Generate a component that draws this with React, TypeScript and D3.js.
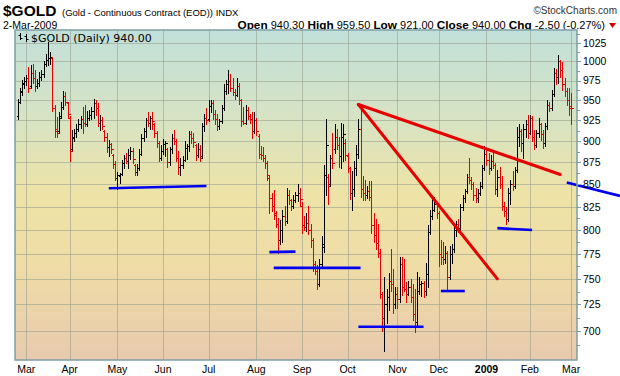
import React from "react";
import * as d3 from "d3";

// ---------- data ----------
const holidays = ["2008-03-21", "2008-05-26", "2008-07-04", "2008-09-01", "2008-11-27", "2008-12-25", "2009-01-01", "2009-01-19", "2009-02-16"];
const firstDate = "2008-02-26";
const lastDate = "2009-03-02";

const opens = [
  930, 948, 960, 970,
  974, 978, 968, 985, 978, 968, 972, 980, 984, 996, 1002, 1004, 1005, 940, 914, 912, 930, 942, 955, 946,
  928, 890, 904, 910, 914, 920, 926, 922, 920, 928, 932, 937, 946, 940, 922, 925, 912, 905, 893, 897, 884, 873,
  857, 859, 862, 874, 880, 877, 884, 888, 872, 864, 868, 885, 904, 912, 925, 922, 928, 920, 910, 898, 880,
  888, 896, 890, 875, 890, 904, 900, 880, 870, 872, 878, 892, 894, 908, 903, 895, 883, 890, 882, 918, 928,
  926, 943, 947, 933, 926, 918, 924, 940, 962, 970, 975, 965, 960, 957, 968, 950, 924, 922, 938, 930, 926, 912,
  925, 906, 885, 883, 880, 874, 857, 835, 826, 816, 806, 790, 800, 815, 810, 838, 832, 826, 832, 838, 840,
  826, 805, 803, 808, 800, 790, 765, 758, 745, 765, 782, 860, 858, 850, 880, 890, 905, 895, 882, 905, 898,
  882, 868, 840, 845, 868, 885, 915, 845, 840, 838, 842, 836, 805, 795, 786, 776, 735, 712, 725, 732, 748, 745, 725,
  735, 730, 765, 742, 740, 735, 742, 732, 716, 708, 738, 745, 746, 738, 755, 798, 815, 822, 828,
  818, 775, 772, 770, 776, 752, 775, 780, 800, 806, 802, 825, 835, 842, 858, 855, 850, 838, 835, 840, 848, 868,
  885, 878, 868, 876, 872, 845, 858, 850, 826, 820, 812, 840, 850, 848, 866, 905, 912, 898, 915, 920,
  910, 928, 905, 895, 910, 920, 908, 898, 918, 944, 940, 958, 985, 980, 1000, 988, 970, 962, 950,
  940.3,
];
const highs = [
  951, 966, 976, 979,
  982, 993, 995, 997, 989, 977, 986, 988, 1000, 1010, 1026, 1013, 1006, 944, 929, 935, 948, 961, 960, 948,
  930, 913, 914, 920, 926, 930, 942, 944, 936, 938, 941, 952, 950, 946, 932, 929, 913, 909, 901, 898, 885, 876,
  864, 863, 878, 883, 886, 890, 893, 892, 873, 873, 890, 908, 916, 928, 935, 930, 935, 922, 912, 900, 895,
  902, 900, 892, 893, 908, 913, 902, 888, 880, 882, 900, 896, 912, 912, 910, 897, 898, 895, 922, 933, 940,
  950, 950, 950, 938, 933, 926, 944, 971, 976, 989, 984, 978, 964, 978, 972, 952, 942, 944, 942, 933, 935, 935,
  928, 908, 894, 893, 884, 876, 860, 840, 844, 820, 813, 811, 822, 826, 846, 844, 834, 838, 841, 850, 846,
  830, 815, 818, 826, 806, 792, 768, 764, 770, 794, 872, 927, 862, 884, 910, 920, 915, 905, 922, 920, 902,
  886, 870, 865, 876, 895, 926, 944, 859, 855, 848, 854, 854, 818, 812, 806, 780, 737, 752, 740, 756, 780, 760, 742,
  742, 772, 772, 770, 747, 748, 750, 745, 740, 757, 752, 748, 748, 766, 805, 822, 836, 836, 830,
  820, 790, 787, 783, 778, 783, 785, 805, 810, 812, 828, 838, 845, 862, 880, 858, 852, 846, 845, 852, 872, 894,
  890, 886, 884, 888, 874, 866, 870, 859, 830, 825, 846, 855, 865, 870, 917, 920, 915, 920, 925, 932,
  932, 930, 913, 913, 928, 922, 913, 922, 950, 948, 963, 991, 990, 1008, 1002, 999, 978, 966, 965,
  959.5,
];
const lows = [
  927, 946, 957, 965,
  969, 960, 966, 972, 962, 966, 968, 976, 980, 994, 995, 997, 936, 905, 905, 910, 928, 939, 944, 928,
  876, 889, 900, 905, 912, 916, 910, 918, 918, 925, 927, 928, 932, 918, 913, 915, 900, 887, 882, 886, 869, 855,
  845, 851, 860, 868, 874, 868, 879, 874, 860, 860, 866, 883, 900, 905, 918, 914, 915, 905, 893, 877, 878,
  885, 882, 870, 872, 886, 896, 876, 862, 860, 868, 877, 879, 888, 898, 893, 878, 881, 876, 880, 912, 920,
  924, 935, 927, 920, 913, 915, 922, 938, 958, 959, 962, 956, 952, 955, 945, 918, 920, 920, 926, 922, 904, 910,
  907, 880, 879, 876, 869, 855, 818, 820, 812, 803, 776, 785, 787, 805, 808, 828, 822, 824, 830, 831, 826,
  797, 800, 799, 796, 782, 758, 755, 740, 743, 763, 777, 838, 828, 848, 868, 886, 890, 870, 868, 876, 878,
  864, 833, 822, 837, 860, 880, 836, 832, 832, 835, 832, 797, 787, 780, 772, 731, 700, 682, 707, 720, 738, 717, 722,
  722, 727, 734, 738, 727, 734, 727, 710, 699, 706, 735, 733, 732, 734, 742, 796, 812, 820, 813,
  763, 765, 765, 766, 739, 750, 766, 777, 794, 798, 800, 822, 830, 840, 851, 845, 832, 830, 830, 838, 846, 866,
  872, 862, 866, 868, 839, 837, 846, 822, 815, 806, 810, 828, 844, 846, 864, 894, 888, 880, 905, 903,
  908, 900, 890, 893, 905, 901, 892, 894, 915, 936, 938, 955, 971, 972, 980, 963, 955, 944, 932,
  921,
];
const closes = [
  948, 962, 972, 975,
  978, 966, 985, 978, 968, 972, 980, 984, 996, 1002, 1004, 1006, 940, 912, 910, 928, 942, 955, 948, 933,
  888, 905, 910, 915, 920, 926, 922, 920, 928, 932, 937, 946, 940, 922, 925, 918, 905, 893, 897, 890, 873, 857,
  860, 862, 874, 880, 877, 884, 888, 879, 864, 868, 885, 904, 912, 925, 922, 928, 924, 910, 898, 880, 888,
  896, 898, 875, 890, 904, 900, 880, 870, 872, 878, 892, 894, 908, 903, 899, 883, 890, 880, 918, 928, 925,
  943, 947, 933, 926, 918, 924, 940, 962, 970, 975, 965, 960, 957, 968, 950, 924, 922, 938, 930, 926, 912, 925,
  912, 885, 883, 880, 874, 860, 835, 826, 818, 806, 790, 800, 815, 810, 838, 832, 826, 832, 838, 840, 834,
  805, 803, 808, 800, 790, 765, 758, 745, 765, 785, 860, 895, 848, 880, 874, 905, 895, 882, 905, 908, 884,
  868, 840, 845, 868, 885, 915, 845, 840, 838, 842, 836, 805, 795, 786, 776, 735, 712, 725, 732, 748, 745, 725, 735,
  730, 765, 742, 740, 735, 742, 732, 716, 708, 738, 745, 746, 738, 755, 798, 815, 822, 828, 818,
  775, 772, 770, 776, 752, 775, 780, 800, 806, 802, 825, 835, 842, 858, 855, 850, 838, 835, 840, 848, 868, 885,
  878, 868, 876, 872, 845, 858, 850, 826, 820, 812, 840, 850, 848, 866, 905, 912, 898, 915, 920, 910,
  928, 905, 895, 910, 920, 908, 898, 918, 944, 940, 958, 985, 980, 1000, 988, 970, 962, 950, 942.5,
  940,
];

const yTicks = [700, 725, 750, 775, 800, 825, 850, 875, 900, 925, 950, 975, 1000, 1025];

// hand-drawn annotation lines: dates and prices
const redLines = [
  { from: "2008-10-08", p1: 944.5, to: "2009-02-23", p2: 861 },
  { from: "2008-10-08", p1: 944.5, to: "2009-01-09", p2: 750 },
];
const blueLines = [
  { from: "2008-04-25", p1: 845.5, to: "2008-06-30", p2: 848, extra: 0 },
  { from: "2008-08-11", p1: 777, to: "2008-08-27", p2: 777.5, extra: 0 },
  { from: "2008-08-13", p1: 761, to: "2008-10-09", p2: 761, extra: 0 },
  { from: "2008-10-08", p1: 704, to: "2008-11-19", p2: 704, extra: 0 },
  { from: "2008-12-02", p1: 738, to: "2008-12-17", p2: 738, extra: 0 },
  { from: "2009-01-09", p1: 802, to: "2009-02-03", p2: 800, extra: 0 },
  { from: "2009-02-26", p1: 852, to: "2009-03-02", p2: 837, extra: 22.5 },
];

const header = {
  symbol: "$GOLD",
  name: "(Gold - Continuous Contract (EOD)) INDX",
  date: "2-Mar-2009",
  open: "940.30",
  high: "959.50",
  low: "921.00",
  close: "940.00",
  chg: "-2.50 (-0.27%)",
  legend: "$GOLD (Daily) 940.00",
  credit: "\u00A9StockCharts.com",
};

// ---------- helpers ----------
function buildDates(): string[] {
  const hol = new Set(holidays);
  const out: string[] = [];
  const d = new Date(firstDate + "T00:00:00Z");
  const end = new Date(lastDate + "T00:00:00Z").getTime();
  while (d.getTime() <= end) {
    const wd = d.getUTCDay();
    const iso = d.toISOString().slice(0, 10);
    if (wd !== 0 && wd !== 6 && !hol.has(iso)) out.push(iso);
    d.setUTCDate(d.getUTCDate() + 1);
  }
  return out;
}

const W = 620;
const H = 376;
const PL = 15, PR = 577, PT = 30, PB = 360;
const FONT = "'Liberation Sans', Arial, sans-serif";

export default function App() {
  const dates = buildDates();
  const n = Math.min(dates.length, closes.length);
  const idx = new Map(dates.map((d, i) => [d, i] as [string, number]));

  const x = d3.scaleLinear().domain([-1.2, 257.7]).range([PL, PR]);
  const y = d3.scaleLog().domain([700, 1025]).range([331, 42.7]);

  const px = (k: number) => Math.round(x(k)) + 0.5;
  const py = (v: number) => Math.round(y(v)) + 0.5;

  // month starts
  const months: { k: number; label: string; bold: boolean }[] = [];
  for (let k = 1; k < n; k++) {
    if (dates[k].slice(5, 7) !== dates[k - 1].slice(5, 7)) {
      const dt = new Date(dates[k] + "T00:00:00Z");
      const m = dt.getUTCMonth();
      months.push({
        k,
        label: m === 0 ? String(dt.getUTCFullYear()) : d3.utcFormat("%b")(dt),
        bold: m === 0,
      });
    }
  }

  const minorTicks: number[] = [];
  for (let i = 0; i < yTicks.length - 1; i++) minorTicks.push((yTicks[i] + yTicks[i + 1]) / 2);
  minorTicks.push(1037.5);
  minorTicks.unshift(687.5);

  const bars = [];
  for (let k = 0; k < n; k++) {
    const up = k === 0 || closes[k] >= closes[k - 1];
    const c = up ? "#000" : "#e80000";
    const xx = px(k);
    bars.push(
      <g key={k} stroke={c} strokeWidth={1}>
        <line x1={xx} x2={xx} y1={Math.round(y(highs[k]))} y2={Math.round(y(lows[k])) + 1} />
        <line x1={xx - 2} x2={xx} y1={py(opens[k])} y2={py(opens[k])} />
        <line x1={xx} x2={xx + 2} y1={py(closes[k])} y2={py(closes[k])} />
      </g>
    );
  }

  const kOf = (d: string) => idx.get(d) ?? 0;

  return (
    <svg width={W} height={H} viewBox={`0 0 ${W} ${H}`} style={{ display: "block", position: "absolute", left: 0, top: 0 }}>
      <defs>
        <linearGradient id="bg" x1="0" y1="0" x2="0" y2="1">
          <stop offset="0" stopColor="#c1e0da" />
          <stop offset="0.28" stopColor="#d8e3c2" />
          <stop offset="0.5" stopColor="#eee3a6" />
          <stop offset="0.72" stopColor="#efdca6" />
          <stop offset="1" stopColor="#e8caae" />
        </linearGradient>
        <clipPath id="plotclip">
          <rect x={PL} y={PT} width={PR - PL} height={PB - PT} />
        </clipPath>
      </defs>
      <rect x={0} y={0} width={W} height={H} fill="#fff" />

      {/* header */}
      <text x={3} y={16} fontFamily={FONT} fontSize={15.5} fontWeight="bold" fill="#000">{header.symbol}</text>
      <text x={62} y={15.5} fontFamily={FONT} fontSize={9.5} fill="#000">{header.name}</text>
      <text x={617} y={14} fontFamily={FONT} fontSize={10} fill="#333" textAnchor="end">{header.credit}</text>
      <text x={3} y={29} fontFamily={FONT} fontSize={10.5} fill="#000">{header.date}</text>
      <text x={605} y={29} fontFamily={FONT} fontSize={11} fill="#000" textAnchor="end">
        <tspan fontWeight="bold" fontSize={11.8}>Open</tspan>
        <tspan> {header.open} </tspan>
        <tspan fontWeight="bold" fontSize={11.8}>High</tspan>
        <tspan> {header.high} </tspan>
        <tspan fontWeight="bold" fontSize={11.8}>Low</tspan>
        <tspan> {header.low} </tspan>
        <tspan fontWeight="bold" fontSize={11.8}>Close</tspan>
        <tspan> {header.close} </tspan>
        <tspan fontWeight="bold" fontSize={11.8}>Chg</tspan>
        <tspan> {header.chg}</tspan>
      </text>
      <path d="M609,23 L616,23 L612.5,28 Z" fill="#d00000" />

      {/* plot background */}
      <rect x={PL} y={PT} width={PR - PL} height={PB - PT} fill="url(#bg)" />

      {/* grid */}
      <g stroke="#9aa08f" strokeOpacity={0.6} strokeWidth={1}>
        {yTicks.map((t) => (
          <line key={t} x1={PL} x2={PR} y1={py(t)} y2={py(t)} />
        ))}
        {months.map((m) => (
          <line key={m.k} x1={px(m.k)} x2={px(m.k)} y1={PT} y2={PB} />
        ))}
      </g>

      {/* bars */}
      <g clipPath="url(#plotclip)" shapeRendering="crispEdges">{bars}</g>

      {/* annotation lines */}
      <g clipPath="url(#plotclip)">
        {redLines.map((l, i) => (
          <line key={i} x1={x(kOf(l.from))} y1={y(l.p1)} x2={x(kOf(l.to))} y2={y(l.p2)} stroke="#e60000" strokeWidth={3} strokeLinecap="round" />
        ))}
      </g>
      {blueLines.map((l, i) => (
        <line key={i} x1={x(kOf(l.from))} y1={y(l.p1)} x2={x(kOf(l.to) + l.extra)} y2={y(l.p2)} stroke="#0000f0" strokeWidth={2.6} />
      ))}

      {/* frame */}
      <rect x={PL} y={PT} width={PR - PL} height={PB - PT} fill="none" stroke="#7e9ea6" strokeWidth={1.5} />

      {/* legend */}
      <g stroke="#000" strokeWidth={1}>
        <line x1={20.5} x2={20.5} y1={33} y2={40} />
        <line x1={18.5} x2={20.5} y1={35.5} y2={35.5} />
        <line x1={20.5} x2={22.5} y1={38.5} y2={38.5} />
        <line x1={26.5} x2={26.5} y1={34} y2={42} />
        <line x1={24.5} x2={26.5} y1={36.5} y2={36.5} />
        <line x1={26.5} x2={28.5} y1={39.5} y2={39.5} />
      </g>
      <text x={31} y={41.5} fontFamily="'DejaVu Sans', Verdana, sans-serif" fontSize={11} fill="#000">{header.legend}</text>

      {/* right axis */}
      <g stroke="#7e9ea6" strokeWidth={1}>
        {yTicks.map((t) => (
          <line key={t} x1={PR} x2={PR + 4} y1={py(t)} y2={py(t)} />
        ))}
        {minorTicks.filter((t) => y(t) > PT && y(t) < PB).map((t) => (
          <line key={t} x1={PR} x2={PR + 3} y1={py(t)} y2={py(t)} />
        ))}
      </g>
      {yTicks.map((t) => (
        <text key={t} x={583} y={y(t) + 3.8} fontFamily={FONT} fontSize={10.5} fill="#000">{t}</text>
      ))}

      {/* bottom axis labels */}
      {months.map((m) => (
        <text key={m.k} x={x(m.k)} y={373} fontFamily={FONT} fontSize={10.5} fontWeight={m.bold ? "bold" : "normal"} textAnchor="middle" fill="#000">{m.label}</text>
      ))}
    </svg>
  );
}
